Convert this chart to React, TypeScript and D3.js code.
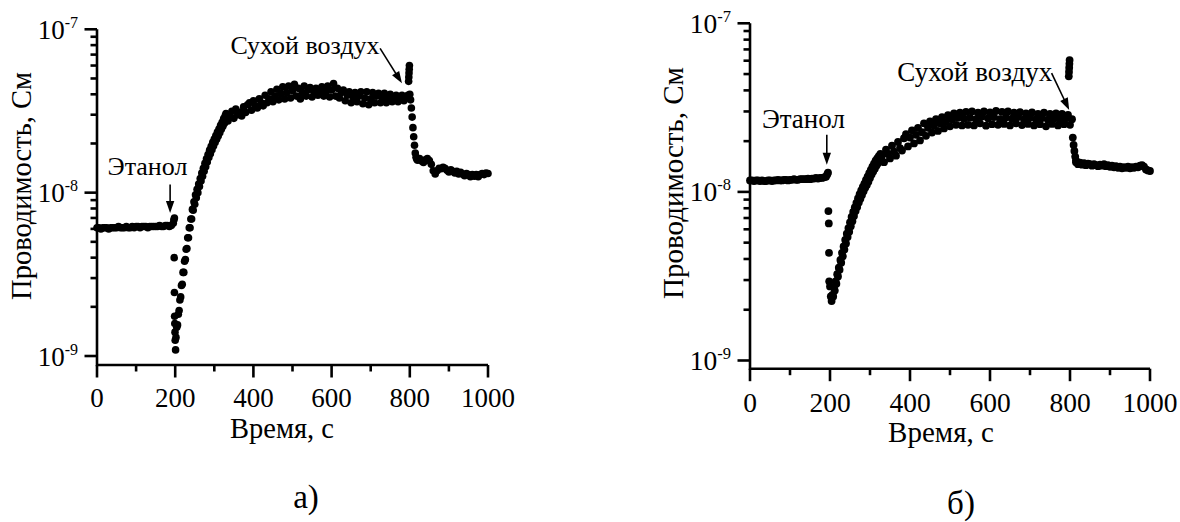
import React from 'react';
import * as d3 from 'd3';

// ---------------- DATA (conductance in nS = 1e-9 S, time in s) ----------------
// Panel а)
const A_BASE = [ // t = 0..195, step 5
  6.1, 6.1, 6.0, 6.1, 6.1, 6.1, 6.0, 6.1, 6.1, 6.1,
  6.1, 6.2, 6.1, 6.1, 6.1, 6.2, 6.1, 6.1, 6.2, 6.1,
  6.2, 6.2, 6.1, 6.2, 6.2, 6.2, 6.1, 6.2, 6.2, 6.2,
  6.2, 6.2, 6.3, 6.2, 6.2, 6.3, 6.3, 6.2, 6.3, 6.5,
];
const A_DROP_T = [196.5, 198, 197.5, 198, 198.5, 199, 199.5, 200, 201];
const A_DROP_V = [6.8, 7.0, 4.0, 2.45, 1.75, 1.58, 1.4, 1.25, 1.09];
const A_RISE = [ // t = 202..328, step 2
  1.3, 1.5, 1.55, 1.8, 1.9, 2.2, 2.3, 2.7, 2.75, 3.25,
  3.25, 3.8, 3.9, 4.5, 4.55, 5.3, 5.3, 6.1, 6.1, 6.9,
  6.9, 7.9, 7.8, 8.8, 8.5, 9.7, 9.3, 10.5, 10.0, 11.3,
  10.9, 12.2, 11.8, 13.2, 12.6, 14.1, 13.5, 15.1, 14.4, 16.1,
  15.4, 17.1, 16.4, 18.2, 17.3, 19.2, 18.3, 20.3, 19.3, 21.3,
  20.3, 22.4, 21.2, 23.5, 22.2, 24.5, 23.3, 25.8, 24.4, 27.0,
  25.5, 28.4, 26.6, 29.6,
];
const A_PLATEAU = [ // t = 330..795, step 5
  30.5, 27.5, 29.5, 31.5, 28.5, 32.5, 30.0, 31.0, 29.5, 33.5,
  31.0, 34.5, 35.5, 32.0, 36.5, 34.0, 33.0, 37.5, 35.5, 34.0,
  39.5, 35.5, 37.5, 41.5, 36.0, 39.0, 43.0, 37.0, 40.5, 44.5,
  37.5, 41.0, 45.0, 38.0, 42.0, 46.0, 39.0, 43.5, 37.5, 41.0,
  45.0, 39.0, 42.5, 44.0, 38.5, 41.5, 43.5, 39.5, 42.0, 44.5,
  39.0, 41.5, 45.0, 38.5, 42.5, 46.5, 39.0, 43.5, 38.0, 41.0,
  42.5, 36.5, 39.5, 41.5, 35.5, 38.5, 41.0, 36.0, 39.0, 41.5,
  35.0, 38.0, 41.5, 34.5, 37.5, 41.0, 35.5, 39.0, 40.5, 35.5,
  38.0, 40.5, 35.5, 37.5, 40.0, 36.0, 38.5, 39.5, 36.0, 38.0,
  39.5, 36.5, 38.5, 39.5,
];
const A_SPIKE_T = [797, 797.5, 798, 798.5, 799];
const A_SPIKE_V = [48, 51, 54, 57, 60];
const A_FALL = [40, 37, 33, 29, 25, 22, 19.5, 17.5, 16.5, 16.0]; // t = 800..818, step 2
const A_TAIL = [ // t = 820..1000, step 5
  15.8, 16.2, 15.6, 15.3, 15.9, 16.2, 15.7, 14.9, 13.6, 13.0,
  13.6, 14.1, 14.0, 14.3, 14.1, 13.7, 13.4, 13.8, 13.5, 13.2,
  13.5, 13.0, 13.3, 13.0, 12.7, 13.1, 12.9, 12.5, 12.9, 12.6,
  12.9, 12.5, 12.9, 13.1, 12.9, 13.2, 13.1,
];

// Panel б)
const B_BASE = [ // t = 0..190, step 5
  11.7, 11.7, 11.6, 11.7, 11.7, 11.6, 11.7, 11.6, 11.6, 11.7,
  11.7, 11.6, 11.7, 11.7, 11.8, 11.7, 11.7, 11.8, 11.8, 11.7,
  11.8, 11.8, 11.9, 11.8, 11.8, 11.9, 11.9, 11.9, 11.9, 12.0,
  11.9, 12.0, 12.0, 12.1, 12.0, 12.1, 12.1, 12.2, 12.3,
];
const B_DROP_T = [193, 195, 196, 197, 197.5, 198];
const B_DROP_V = [12.7, 13.0, 7.7, 6.5, 4.35, 2.95];
const B_RISE = [ // t = 200..328, step 2
  2.75, 2.4, 2.25, 2.45, 2.4, 2.7, 2.6, 2.95, 2.85, 3.25,
  3.15, 3.55, 3.45, 3.95, 3.8, 4.35, 4.15, 4.75, 4.55, 5.2,
  4.95, 5.65, 5.4, 6.1, 5.8, 6.6, 6.25, 7.1, 6.7, 7.6,
  7.2, 8.1, 7.7, 8.6, 8.15, 9.15, 8.65, 9.7, 9.1, 10.2,
  9.6, 10.7, 10.1, 11.2, 10.6, 11.8, 11.0, 12.3, 11.5, 12.9,
  12.1, 13.5, 12.7, 14.1, 13.2, 14.7, 13.7, 15.3, 14.3, 15.8,
  14.8, 16.3, 15.2, 16.8, 15.6,
];
const B_PLATEAU = [ // t = 330..805, step 5
  16.5, 15.0, 17.8, 16.8, 15.8, 18.8, 17.3, 16.4, 19.8, 18.2,
  17.6, 20.8, 22.0, 18.6, 21.0, 23.2, 19.4, 21.8, 24.0, 20.2,
  22.6, 25.5, 21.5, 24.0, 26.2, 22.5, 24.8, 27.0, 23.0, 25.5,
  27.8, 23.8, 26.0, 28.5, 24.5, 27.0, 29.2, 25.0, 27.5, 29.5,
  24.8, 27.2, 29.8, 25.0, 27.5, 30.0, 24.8, 27.0, 29.5, 25.5,
  28.0, 30.0, 24.7, 27.3, 29.6, 25.2, 27.8, 30.2, 25.0, 27.0,
  29.8, 25.3, 27.6, 30.0, 24.8, 27.2, 29.5, 25.5, 27.8, 29.7,
  24.9, 27.0, 29.2, 25.3, 27.5, 29.6, 24.8, 27.0, 29.0, 25.2,
  27.4, 29.5, 24.5, 26.8, 29.0, 25.3, 27.2, 29.2, 24.8, 27.0,
  29.0, 25.2, 27.3, 28.6, 25.0, 27.0,
];
const B_SPIKE_T = [797, 797.5, 798, 798.5, 799];
const B_SPIKE_V = [48.5, 51.5, 54.5, 57.5, 60.5];
const B_FALL = [21.0, 19.0, 17.5, 16.2, 15.4]; // t = 807..815, step 2
const B_TAIL = [ // t = 815..1000, step 5
  15.0, 14.6, 14.9, 14.5, 14.8, 14.4, 14.7, 14.6, 14.3, 14.6,
  14.4, 14.2, 14.5, 14.3, 14.6, 14.2, 14.4, 14.1, 14.3, 14.0,
  14.2, 13.9, 14.1, 13.8, 14.0, 13.9, 14.1, 13.8, 14.0, 13.9,
  14.1, 14.0, 14.3, 14.4, 14.1, 13.6, 13.4, 13.3,
];

// Axis ticks and texts
const X_MAJOR = [0, 200, 400, 600, 800, 1000];
const X_MINOR = [100, 300, 500, 700, 900];
const Y_EXP = [-9, -8, -7];
const Y_MAJOR_NS = [1, 10, 100];
const Y_MINOR_NS = [2, 3, 4, 5, 6, 7, 8, 9, 20, 30, 40, 50, 60, 70, 80, 90];
const X_TITLE = 'Время, с';
const Y_TITLE = 'Проводимость, См';
const ETHANOL = 'Этанол';
const DRY_AIR = 'Сухой воздух';

type Pt = { t: number; v: number };
const grid = (t0: number, dt: number, vals: number[]): Pt[] => vals.map((v, i) => ({ t: t0 + i * dt, v }));
const pairs = (ts: number[], vs: number[]): Pt[] => ts.map((t, i) => ({ t, v: vs[i] }));

const A_POINTS: Pt[] = [
  ...grid(0, 5, A_BASE), ...pairs(A_DROP_T, A_DROP_V), ...grid(202, 2, A_RISE),
  ...grid(330, 5, A_PLATEAU), ...pairs(A_SPIKE_T, A_SPIKE_V), ...grid(800, 2, A_FALL), ...grid(820, 5, A_TAIL),
];
const B_POINTS: Pt[] = [
  ...grid(0, 5, B_BASE), ...pairs(B_DROP_T, B_DROP_V), ...grid(200, 2, B_RISE),
  ...grid(330, 5, B_PLATEAU), ...pairs(B_SPIKE_T, B_SPIKE_V), ...grid(807, 2, B_FALL), ...grid(815, 5, B_TAIL),
];

type Ann = { text: string; lt: number; lv: number; a0: [number, number]; a1: [number, number] };

const FONT = 'Liberation Serif';

type PanelCfg = {
  points: Pt[]; x0: number; x1: number; yTop: number; yBot: number; vMin: number;
  fs: number; annFs: number; supFs: number; titleFs: number; r: number;
  xLabelDy: number; xTitle: [number, number]; yTitle: [number, number];
  caption: string; cap: [number, number]; anns: Ann[];
};

const PANELS: PanelCfg[] = [
  {
    points: A_POINTS, x0: 97, x1: 488, yTop: 29.3, yBot: 365, vMin: 0.881,
    fs: 27, annFs: 26, supFs: 16, titleFs: 28.5, r: 3.8, xLabelDy: 42,
    xTitle: [282, 438], yTitle: [31, 186], caption: 'а)', cap: [306, 508],
    anns: [
      { text: ETHANOL, lt: 129, lv: 12.9, a0: [187, 11.2], a1: [187, 7.5] },
      { text: DRY_AIR, lt: 532, lv: 70.6, a0: [724, 76.5], a1: [780, 46.7] },
    ],
  },
  {
    points: B_POINTS, x0: 750, x1: 1150, yTop: 23.3, yBot: 368.7, vMin: 0.894,
    fs: 27.5, annFs: 27, supFs: 16.5, titleFs: 29, r: 3.9, xLabelDy: 43,
    xTitle: [941, 442], yTitle: [683, 183], caption: 'б)', cap: [961, 514],
    anns: [
      { text: ETHANOL, lt: 133.5, lv: 24, a0: [192, 21.8], a1: [192, 14.5] },
      { text: DRY_AIR, lt: 562, lv: 45.5, a0: [754, 50.6], a1: [798, 30.6] },
    ],
  },
];

function Arrow({ x1, y1, x2, y2 }: { x1: number; y1: number; x2: number; y2: number }) {
  const dx = x2 - x1, dy = y2 - y1;
  const len = Math.hypot(dx, dy);
  const ux = dx / len, uy = dy / len;
  const hl = 12, hw = 4.2;
  const bx = x2 - ux * hl, by = y2 - uy * hl;
  const px = -uy, py = ux;
  return (
    <g>
      <line x1={x1} y1={y1} x2={bx + ux * 2} y2={by + uy * 2} stroke="#000" strokeWidth={1.6} />
      <polygon points={`${x2},${y2} ${bx + px * hw},${by + py * hw} ${bx - px * hw},${by - py * hw}`} fill="#000" />
    </g>
  );
}

function Panel({ c }: { c: PanelCfg }) {
  const x = d3.scaleLinear().domain([0, 1000]).range([c.x0, c.x1]);
  const y = d3.scaleLog().domain([c.vMin, 100]).range([c.yBot, c.yTop]);
  const sw = 2.6;
  return (
    <g>
      {c.points.map((p, i) => (
        <circle key={i} cx={x(p.t)} cy={y(p.v)} r={c.r} fill="#000" />
      ))}
      <path d={`M${c.x0},${c.yTop} V${c.yBot} H${c.x1}`} fill="none" stroke="#000" strokeWidth={sw} strokeLinejoin="miter" />
      {X_MAJOR.map((t) => (
        <g key={'xm' + t}>
          <line x1={x(t)} x2={x(t)} y1={c.yBot} y2={c.yBot + 12.5} stroke="#000" strokeWidth={sw} />
          <text x={x(t)} y={c.yBot + c.xLabelDy} textAnchor="middle" fontFamily={FONT} fontSize={c.fs}>{String(t)}</text>
        </g>
      ))}
      {X_MINOR.map((t) => (
        <line key={'xn' + t} x1={x(t)} x2={x(t)} y1={c.yBot} y2={c.yBot + 6.5} stroke="#000" strokeWidth={sw} />
      ))}
      {Y_MAJOR_NS.map((v, i) => (
        <g key={'ym' + v}>
          <line x1={c.x0 - 12.5} x2={c.x0} y1={y(v)} y2={y(v)} stroke="#000" strokeWidth={sw} />
          <text x={c.x0 - 19} y={y(v) + 9.5} textAnchor="end" fontFamily={FONT} fontSize={c.fs}>
            <tspan>10</tspan>
            <tspan dy={-11} fontSize={c.supFs}>{String(Y_EXP[i])}</tspan>
          </text>
        </g>
      ))}
      {Y_MINOR_NS.map((v) => (
        <line key={'yn' + v} x1={c.x0 - 6.5} x2={c.x0} y1={y(v)} y2={y(v)} stroke="#000" strokeWidth={sw} />
      ))}
      <text x={c.xTitle[0]} y={c.xTitle[1]} textAnchor="middle" fontFamily={FONT} fontSize={c.titleFs}>{X_TITLE}</text>
      <text transform={`translate(${c.yTitle[0]},${c.yTitle[1]}) rotate(-90)`} textAnchor="middle" fontFamily={FONT} fontSize={c.titleFs}>{Y_TITLE}</text>
      {c.anns.map((a, i) => (
        <g key={'an' + i}>
          <text x={x(a.lt)} y={y(a.lv)} textAnchor="middle" fontFamily={FONT} fontSize={c.annFs}>{a.text}</text>
          <Arrow x1={x(a.a0[0])} y1={y(a.a0[1])} x2={x(a.a1[0])} y2={y(a.a1[1])} />
        </g>
      ))}
      <text x={c.cap[0]} y={c.cap[1]} textAnchor="middle" fontFamily={FONT} fontSize={33}>{c.caption}</text>
    </g>
  );
}

export default function App() {
  return (
    <svg width={1180} height={522} style={{ position: 'absolute', left: 0, top: 0, background: '#fff' }}>
      <rect x={0} y={0} width={1180} height={522} fill="#fff" />
      {PANELS.map((c, i) => <Panel key={i} c={c} />)}
    </svg>
  );
}
